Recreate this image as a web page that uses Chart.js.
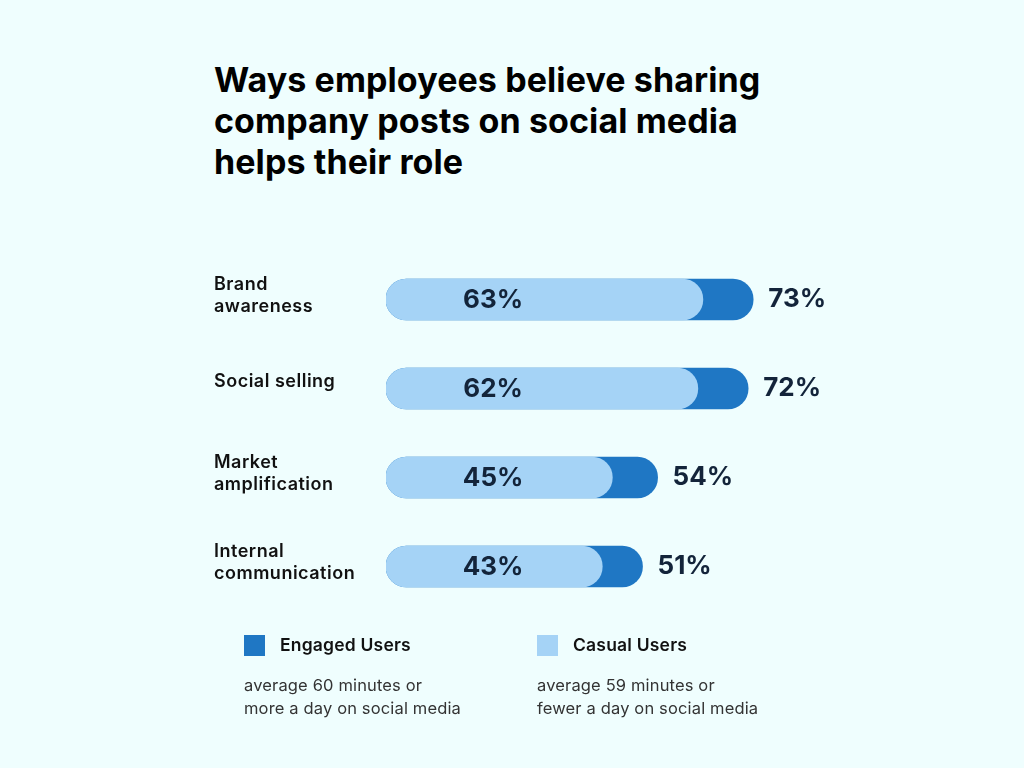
<!DOCTYPE html>
<html>
<head>
<meta charset="utf-8">
<script src="https://cdn.jsdelivr.net/npm/chart.js@4.4.0/dist/chart.umd.min.js"></script>
<style>
  html, body { margin: 0; padding: 0; background: #effefe; }
  body { width: 1024px; height: 768px; position: relative; overflow: hidden; font-family: Inter, "Noto Sans", sans-serif; }
  #chart { position: absolute; left: 0; top: 0; }
  .title { position: absolute; left: 214px; top: 59px; font-size: 34px; font-weight: 700; line-height: 41px; color: #000; letter-spacing: 0.1px; }
  .leg { position: absolute; top: 635px; }
  .leg .sw { position: absolute; left: 0; top: 0; width: 21px; height: 21px; }
  .leg .name { position: absolute; left: 36px; top: -1px; font-size: 17.5px; font-weight: 600; color: #111; white-space: nowrap; line-height: 22px; letter-spacing: 0.2px; }
  .leg .desc { position: absolute; left: 0; top: 39px; font-size: 16.5px; color: #333; white-space: nowrap; line-height: 23px; letter-spacing: 0.15px; }
</style>
</head>
<body>
<div class="title">Ways employees believe sharing<br>company posts on social media<br>helps their role</div>
<canvas id="chart" width="1024" height="768"></canvas>
<div class="leg" id="leg1" style="left:244px"><div class="sw"></div><div class="name"></div><div class="desc"></div></div>
<div class="leg" id="leg2" style="left:537px"><div class="sw"></div><div class="name"></div><div class="desc"></div></div>
<script>
var categories = [
    ['Brand', 'awareness'],
    ['Social selling'],
    ['Market', 'amplification'],
    ['Internal', 'communication']
];
var casualUsers = [63, 62, 45, 43];
var engagedUsers = [73, 72, 54, 51];
var seriesNames = ['Casual Users', 'Engaged Users'];
var seriesNotes = [
    ['average 59 minutes or', 'fewer a day on social media'],
    ['average 60 minutes or', 'more a day on social media']
];
var lightBlue = '#a5d3f6';
var darkBlue = '#1f77c4';

// legend boxes (html)
function fillLegend(id, color, name, note) {
    var el = document.getElementById(id);
    el.querySelector('.sw').style.background = color;
    el.querySelector('.name').textContent = name;
    el.querySelector('.desc').innerHTML = note.join('<br>');
}
fillLegend('leg1', darkBlue, seriesNames[1], seriesNotes[1]);
fillLegend('leg2', lightBlue, seriesNames[0], seriesNotes[0]);

var labelsPlugin = {
    id: 'labelsPlugin',
    afterDatasetsDraw: function (chart) {
        var ctx = chart.ctx;
        var x = chart.scales.x;
        var y = chart.scales.y;
        ctx.save();
        for (var i = 0; i < categories.length; i++) {
            var cy = y.getPixelForValue(i);
            // category name
            ctx.fillStyle = '#111';
            ctx.font = '600 18px Inter, sans-serif';
            ctx.letterSpacing = '0.5px';
            ctx.textAlign = 'left';
            ctx.textBaseline = 'middle';
            var lines = categories[i];
            var top = cy - (lines.length > 1 ? 4 : 7) - (lines.length - 1) * 11;
            for (var k = 0; k < lines.length; k++) {
                ctx.fillText(lines[k], 214, top + k * 22);
            }
            // casual value, inside the bar
            ctx.letterSpacing = '0px';
            ctx.fillStyle = '#13243a';
            ctx.font = '700 26px Inter, sans-serif';
            ctx.textAlign = 'center';
            ctx.fillText(casualUsers[i] + '%', x.getPixelForValue(21.3), cy + 1);
            // engaged value, after the bar
            ctx.textAlign = 'left';
            ctx.fillText(engagedUsers[i] + '%', x.getPixelForValue(engagedUsers[i]) + 15, cy);
        }
        ctx.restore();
    }
};

var ctx = document.getElementById('chart').getContext('2d');
var chart = new Chart(ctx, {
    type: 'bar',
    data: {
        labels: categories,
        datasets: [{
            label: seriesNames[0],
            data: casualUsers,
            backgroundColor: lightBlue,
            grouped: false,
            barThickness: 41,
            borderRadius: 21,
            borderSkipped: false
        }, {
            label: seriesNames[1],
            data: engagedUsers,
            backgroundColor: darkBlue,
            grouped: false,
            barThickness: 41,
            borderRadius: 21,
            borderSkipped: false
        }]
    },
    options: {
        indexAxis: 'y',
        responsive: false,
        animation: false,
        layout: { padding: { left: 386, right: 135, top: 255, bottom: 157 } },
        scales: {
            x: { display: false, min: 0, max: 100 },
            y: { display: false }
        },
        plugins: {
            legend: { display: false },
            tooltip: { enabled: false }
        }
    },
    plugins: [labelsPlugin]
});
</script>
</body>
</html>
